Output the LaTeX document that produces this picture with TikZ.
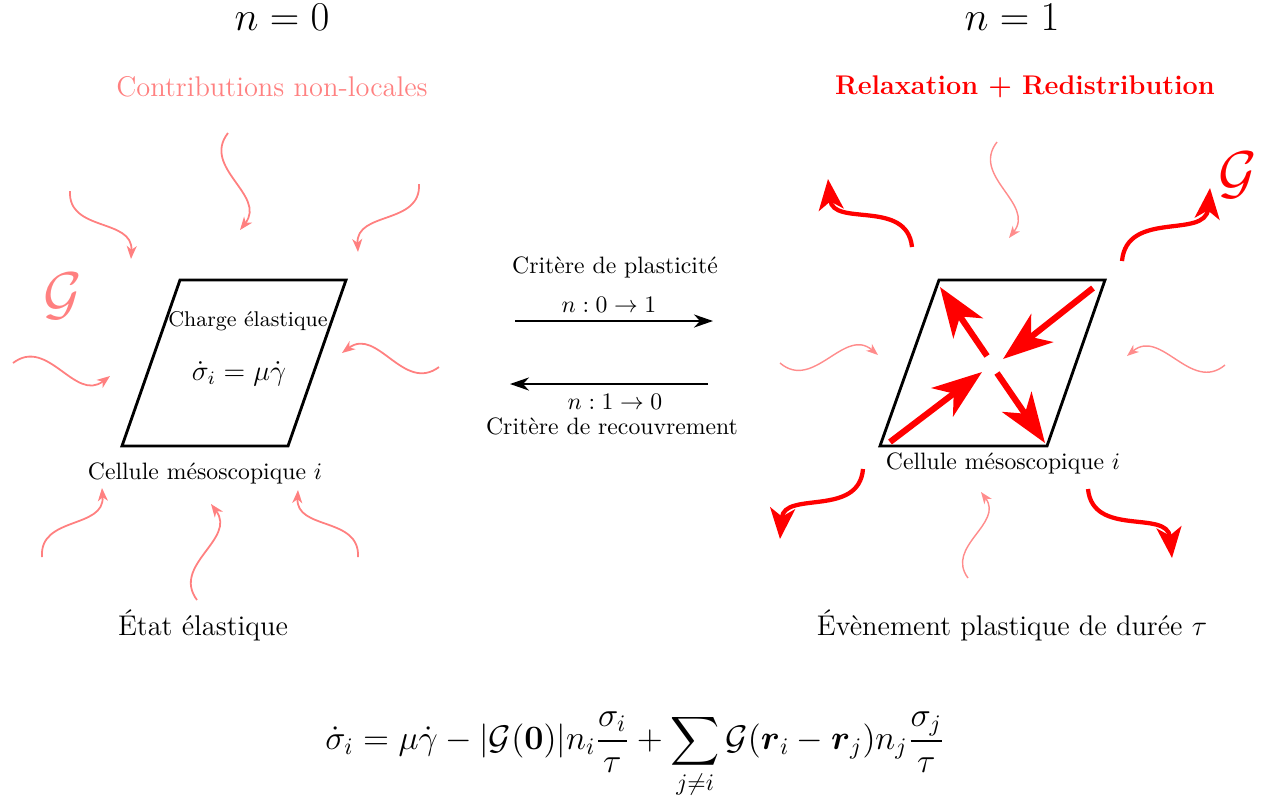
\documentclass[tikz,border=0pt]{standalone}
\usepackage{amsmath}
\usetikzlibrary{arrows.meta,calc}
\newcommand{\wavearrow}[4]{\draw[#1] (#2) .. controls ($(#2)!0.45!#4:(#3)$) and ($(#3)!0.45!#4:(#2)$) .. (#3);}
\begin{document}
\begin{tikzpicture}[x=0.4219pt,y=-0.4219pt,
  pinkw/.style={draw=red!50, line width=0.75pt, -{Stealth[length=5.5pt,width=4.2pt,inset=1.6pt]}},
  palew/.style={draw=red!45, line width=0.6pt, -{Stealth[length=5pt,width=3.8pt,inset=1.5pt]}},
  redw/.style={draw=red, line width=1.8pt, -{Stealth[length=13pt,width=10.5pt,inset=3.5pt]}},
  innerarr/.style={draw=red, line width=2.6pt, -{Stealth[length=21pt,width=15pt,inset=6pt]}},
  trans/.style={line width=0.9pt, -{Stealth[length=8pt,width=5.5pt,inset=2.5pt]}},
  cell/.style={line width=1.2pt, line join=miter},
  lbl/.style={inner sep=0pt, anchor=center}]
\useasboundingbox (0,0) rectangle (1266,809);

% titles
\node[lbl] (t0) at (282,17) {\fontsize{16}{19}\selectfont $n=0$};
\node[lbl] (t1) at (1012,17) {\fontsize{16}{19}\selectfont $n=1$};
\node[lbl, text=red!50] (contrib) at (272,87) {\large Contributions non-locales};
\node[lbl, text=red] (relax) at (1025,87) {\fontsize{11.4}{14}\selectfont\bfseries Relaxation + Redistribution};

% left cell
\coordinate (L1) at (180,280); \coordinate (L2) at (346,280);
\coordinate (L3) at (288,446); \coordinate (L4) at (122,446);
\draw[cell] (L1) -- (L2) -- (L3) -- (L4) -- cycle;
\node[lbl] (charge) at (248,321) {\small Charge élastique};
\node[lbl] (loc) at (239,374) {\large $\dot\sigma_i=\mu\dot\gamma$};
\node[lbl] (cellL) at (205,473) {Cellule mésoscopique $i$};
\node[lbl] (etatL) at (203,625) {\large État élastique};
\node[lbl, text=red!50] (GL) at (63,296) {\Huge $\mathcal{G}$};

% left incoming waves
\wavearrow{pinkw}{228,133}{240,230}{-45}
\wavearrow{pinkw}{70,191}{131,259}{-45}
\wavearrow{pinkw}{419,184}{358,252}{45}
\wavearrow{pinkw}{13,363}{110,376}{45}
\wavearrow{pinkw}{439,367}{342,353}{45}
\wavearrow{pinkw}{42,557}{102,488}{45}
\wavearrow{pinkw}{197,600}{211,504}{45}
\wavearrow{pinkw}{358,557}{298,490}{-45}

% middle transitions
\coordinate (u1) at (515,321); \coordinate (u2) at (713,321);
\coordinate (d1) at (708,384); \coordinate (d2) at (510,384);
\draw[trans] (u1) -- (u2);
\draw[trans] (d1) -- (d2);
\node[lbl] (plast) at (615,267) {Critère de plasticité};
\node[lbl] (n01) at (609,305) {$n:0\to1$};
\node[lbl] (n10) at (615,402) {$n:1\to0$};
\node[lbl] (recov) at (612,426) {Critère de recouvrement};

% right cell
\coordinate (R1) at (939,280); \coordinate (R2) at (1105,280);
\coordinate (R3) at (1047,446); \coordinate (R4) at (880,446);
\draw[cell] (R1) -- (R2) -- (R3) -- (R4) -- cycle;
\node[lbl] (cellR) at (1003,463) {Cellule mésoscopique $i$};
\node[lbl] (evt) at (1012,625) {\large Évènement plastique de durée $\tau$};
\node[lbl, text=red] (GR) at (1238,175) {\Huge $\mathcal{G}$};

% inner arrows
\coordinate (i1s) at (890,442); \coordinate (i1e) at (982,372);
\coordinate (i2s) at (1093,288); \coordinate (i2e) at (1003,359);
\coordinate (i3s) at (987,356); \coordinate (i3e) at (940,287);
\coordinate (i4s) at (997,373); \coordinate (i4e) at (1045,443);
\draw[innerarr] (i1s) -- (i1e);
\draw[innerarr] (i2s) -- (i2e);
\draw[innerarr] (i3s) -- (i3e);
\draw[innerarr] (i4s) -- (i4e);

% outgoing red waves
\wavearrow{redw}{912,247}{828,179}{-45}
\wavearrow{redw}{1122,261}{1210,188}{45}
\wavearrow{redw}{863,469}{780,539}{45}
\wavearrow{redw}{1088,489}{1172,558}{-45}

% right incoming pale waves
\wavearrow{palew}{997,142}{1009,238}{-45}
\wavearrow{palew}{780,363}{878,355}{-45}
\wavearrow{palew}{1225,365}{1127,356}{45}
\wavearrow{palew}{968,578}{981,492}{45}

% bottom equation
\node[lbl] (eq) at (635,755) {\fontsize{14.1}{17}\selectfont $\displaystyle \dot\sigma_i=\mu\dot\gamma-|\mathcal{G}(\mathbf{0})|n_i\frac{\sigma_i}{\tau}+\sum_{j\neq i}\mathcal{G}(\boldsymbol{r}_i-\boldsymbol{r}_j)n_j\frac{\sigma_j}{\tau}$};
\end{tikzpicture}
\end{document}
